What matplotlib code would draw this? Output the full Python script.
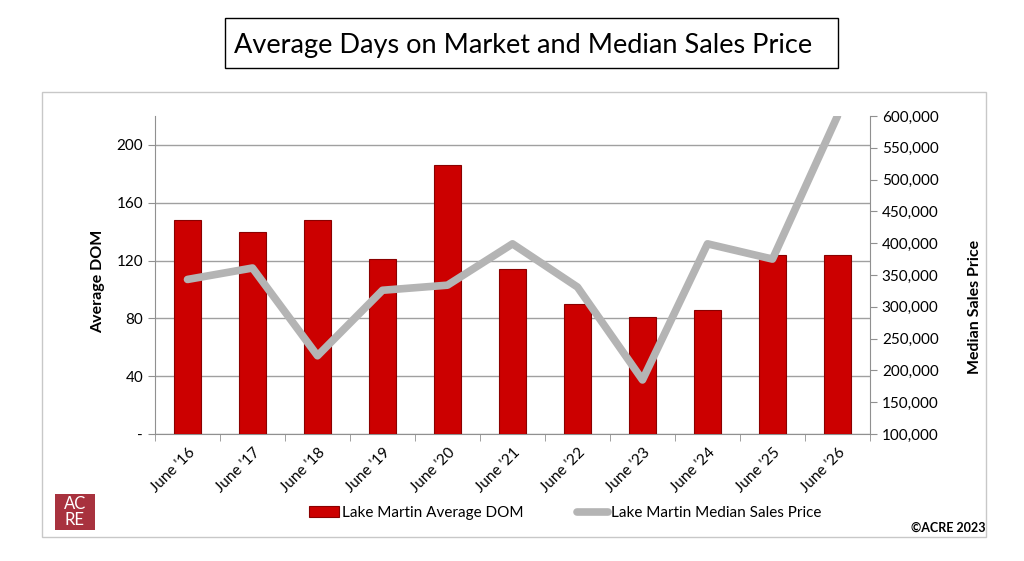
import numpy as np
import matplotlib
matplotlib.use("Agg")
import matplotlib.pyplot as plt
from matplotlib.patches import Rectangle
from matplotlib.ticker import FuncFormatter

plt.rcParams['font.family'] = ['Lato', 'DejaVu Sans']

# data
years = ["June '16", "June '17", "June '18", "June '19", "June '20", "June '21",
         "June '22", "June '23", "June '24", "June '25", "June '26"]
avg_dom = [148, 140, 148, 121, 186, 114, 90, 81, 86, 124, 124]
median_price = [343000, 361000, 223000, 326000, 334000, 399000,
                331000, 185000, 399000, 375000, 600000]

fig = plt.figure(figsize=(10.24, 5.61), dpi=100)

# outer frame and title box
fig.patches.append(Rectangle((42/1024, 1-537/561), 944/1024, 445/561,
                             transform=fig.transFigure, fill=False,
                             edgecolor='#c8c8c8', lw=1))
fig.patches.append(Rectangle((225/1024, 1-68/561), 613/1024, 50/561,
                             transform=fig.transFigure, fill=False,
                             edgecolor='black', lw=1))
fig.text(523/1024, 1-45/561, "Average Days on Market and Median Sales Price",
         ha='center', va='center', fontsize=19.5)

ax = fig.add_axes([155/1024, 1-434/561, 715/1024, 318/561])
x = np.arange(len(years))
ax.bar(x, avg_dom, width=0.42, color='#cc0000', edgecolor='#8a0000', lw=0.8,
       zorder=3, label='Lake Martin Average DOM')
ax.set_xlim(-0.5, len(years) - 0.5)
ax.set_ylim(0, 220)
ax.set_yticks([0, 40, 80, 120, 160, 200])
ax.yaxis.set_major_formatter(FuncFormatter(lambda v, p: '-' if v == 0 else f'{v:.0f}'))
ax.grid(axis='y', color='#a0a0a0', lw=1, zorder=0)
ax.set_xticks(x)
ax.set_xticklabels(years, rotation=45, ha='right', rotation_mode='anchor', fontsize=11)
ax.set_xticks(np.arange(len(years) + 1) - 0.5, minor=True)
ax.tick_params(axis='x', which='major', length=0, pad=8)
ax.tick_params(axis='x', which='minor', length=5, color='#909090')
ax.tick_params(axis='y', length=5, color='#909090', labelsize=11)
for s in ['top', 'right']:
    ax.spines[s].set_visible(False)
for s in ['left', 'bottom']:
    ax.spines[s].set_color('#909090')
ax.set_ylabel('Average DOM', fontsize=11.5, fontweight='bold')
ax.yaxis.set_label_coords(-0.07, 0.48)

ax2 = ax.twinx()
ax2.plot(x, median_price, color='#b4b4b4', lw=5.5, solid_capstyle='round',
         zorder=4, label='Lake Martin Median Sales Price')
ax2.set_ylim(100000, 600000)
ax2.set_yticks(np.arange(100000, 600001, 50000))
ax2.yaxis.set_major_formatter(FuncFormatter(lambda v, p: f'{v:,.0f}'))
ax2.tick_params(axis='y', length=5, color='#909090', labelsize=11)
for s in ['top', 'left', 'bottom']:
    ax2.spines[s].set_visible(False)
ax2.spines['right'].set_color('#909090')
ax2.set_ylabel('Median Sales Price', fontsize=11.5, fontweight='bold')
ax2.yaxis.set_label_coords(1.137, 0.40)

h1, l1 = ax.get_legend_handles_labels()
h2, l2 = ax2.get_legend_handles_labels()
fig.legend(h1 + h2, l1 + l2, loc='center', bbox_to_anchor=(565/1024, 1-513/561),
           ncol=2, frameon=False, fontsize=11, handlelength=2.0,
           handletextpad=0.2, columnspacing=3.5)

# ACRE logo and copyright
fig.patches.append(Rectangle((55/1024, 1-530/561), 40/1024, 36/561,
                             transform=fig.transFigure, fc='#a8323e', ec='none'))
fig.text(75/1024, 1-512/561, "AC\nRE", color='white', ha='center', va='center',
         fontsize=12, linespacing=0.95)
fig.text(948/1024, 1-528/561, "©ACRE 2023", ha='center', va='center',
         fontsize=9, fontweight='bold')

fig.savefig('out.png', dpi=100)
